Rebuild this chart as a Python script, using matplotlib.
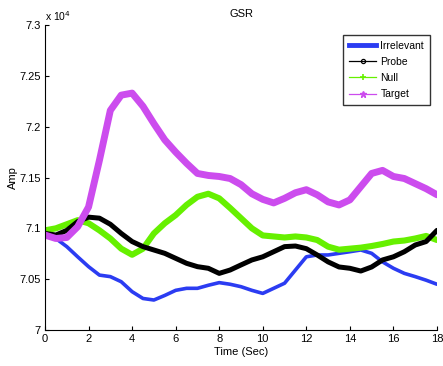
import numpy as np
import matplotlib
matplotlib.use('Agg')
import matplotlib.pyplot as plt
from matplotlib.lines import Line2D

plt.rcParams['font.family'] = ['Liberation Sans', 'DejaVu Sans']

# vremya (sec), kazhdye 0.5 s
time_sec = [0, 0.5, 1, 1.5, 2, 2.5, 3, 3.5, 4, 4.5, 5, 5.5, 6, 6.5, 7, 7.5, 8, 8.5, 9,
            9.5, 10, 10.5, 11, 11.5, 12, 12.5, 13, 13.5, 14, 14.5, 15, 15.5, 16, 16.5,
            17, 17.5, 18]

# amplitudy v edinicah 1e4
irrelevant = [7.0934, 7.090, 7.082, 7.072, 7.0623, 7.054, 7.0525, 7.0475, 7.0377, 7.031,
              7.0295, 7.034, 7.039, 7.041, 7.041, 7.044, 7.0466, 7.045, 7.0426, 7.039,
              7.036, 7.041, 7.046, 7.059, 7.072, 7.0738, 7.0738, 7.0754, 7.077, 7.0787,
              7.0754, 7.067, 7.0607, 7.0557, 7.0525, 7.049, 7.045]
probe = [7.095, 7.0934, 7.098, 7.1066, 7.111, 7.110, 7.104, 7.095, 7.087, 7.082,
         7.0787, 7.0754, 7.0705, 7.0656, 7.0623, 7.0607, 7.0557, 7.059, 7.064, 7.0689,
         7.072, 7.077, 7.082, 7.0826, 7.080, 7.0738, 7.067, 7.062, 7.0607, 7.058,
         7.062, 7.0689, 7.072, 7.077, 7.0836, 7.087, 7.098]
null = [7.098, 7.100, 7.104, 7.108, 7.105, 7.098, 7.090, 7.080, 7.074, 7.080,
        7.095, 7.105, 7.113, 7.123, 7.131, 7.134, 7.1295, 7.120, 7.110, 7.100,
        7.093, 7.092, 7.091, 7.092, 7.091, 7.0885, 7.082, 7.079, 7.080, 7.081,
        7.0826, 7.0846, 7.087, 7.088, 7.090, 7.0925, 7.0885]
target = [7.0934, 7.090, 7.091, 7.1016, 7.121, 7.167, 7.216, 7.231, 7.233, 7.220,
          7.203, 7.187, 7.175, 7.164, 7.154, 7.152, 7.151, 7.149, 7.143, 7.134,
          7.1285, 7.125, 7.1295, 7.135, 7.138, 7.133, 7.126, 7.123, 7.128, 7.141,
          7.154, 7.157, 7.151, 7.149, 7.144, 7.139, 7.133]

c_blue = '#2b3cf2'
c_black = '#000000'
c_green = '#66f000'
c_mag = '#cc4cee'

fig = plt.figure(figsize=(4.43, 3.66), dpi=100)
ax = fig.add_axes([45 / 443, 36 / 366, 392 / 443, 305 / 366])

ax.plot(time_sec, irrelevant, color=c_blue, lw=2.6, solid_capstyle='round')
ax.plot(time_sec, null, color=c_green, lw=4.4, solid_capstyle='round')
ax.plot(time_sec, probe, color=c_black, lw=3.6, solid_capstyle='round')
ax.plot(time_sec, target, color=c_mag, lw=5.0, solid_capstyle='round')

ax.set_xlim(0, 18)
ax.set_ylim(7.0, 7.3)
ax.set_xticks(np.arange(0, 19, 2))
ax.set_yticks([7.0, 7.05, 7.1, 7.15, 7.2, 7.25, 7.3])
ax.set_yticklabels(['7', '7.05', '7.1', '7.15', '7.2', '7.25', '7.3'])
ax.tick_params(direction='in', labelsize=8, length=3, pad=3)
ax.spines['top'].set_visible(False)
ax.spines['right'].set_visible(False)

ax.set_title('GSR', fontsize=8, pad=6)
ax.set_xlabel('Time (Sec)', fontsize=8, labelpad=2)
ax.set_ylabel('Amp', fontsize=8, labelpad=1)
ax.text(0.0, 1.005, r'x 10$^4$', transform=ax.transAxes, fontsize=7.5,
        ha='left', va='bottom')

handles = [
    Line2D([], [], color=c_blue, lw=3.5),
    Line2D([], [], color=c_black, lw=0.9, marker='o', ms=3, mfc='none', mew=0.9),
    Line2D([], [], color=c_green, lw=0.9, marker='+', ms=4, mew=1.2),
    Line2D([], [], color=c_mag, lw=0.9, marker='*', ms=5),
]
leg = ax.legend(handles, ['Irrelevant', 'Probe', 'Null', 'Target'], loc='upper right',
                bbox_to_anchor=(0.995, 0.985), fontsize=7.5, fancybox=False,
                framealpha=1, edgecolor='#333333', handlelength=2.6,
                handletextpad=0.4, labelspacing=0.6, borderpad=0.55)
leg.get_frame().set_linewidth(1.0)

fig.savefig('out.png', dpi=100)
